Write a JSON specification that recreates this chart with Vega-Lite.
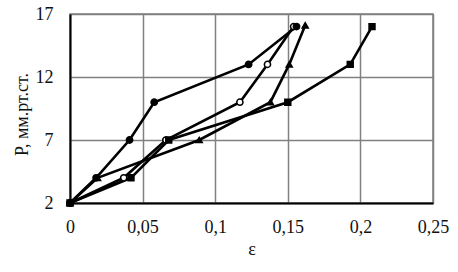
{
  "$schema": "https://vega.github.io/schema/vega-lite/v6.json",
  "width": 363,
  "height": 189,
  "autosize": "none",
  "padding": {"left": 70, "top": 14, "right": 25, "bottom": 69},
  "background": "white",
  "config": {
    "font": "Times New Roman, Liberation Serif, serif",
    "view": {"stroke": "#808080", "strokeWidth": 1.5},
    "axis": {
      "labelFont": "Times New Roman, Liberation Serif, serif",
      "titleFont": "Times New Roman, Liberation Serif, serif",
      "labelFontSize": 18,
      "titleFontSize": 18,
      "labelColor": "#111",
      "titleColor": "#111",
      "titleFontWeight": "normal",
      "gridColor": "#808080",
      "gridWidth": 1.5,
      "gridOpacity": 1,
      "domainColor": "#000",
      "domainWidth": 2,
      "ticks": false
    }
  },
  "data": {
    "values": [
      {"s": "B", "o": 0, "eps": 0, "P": 2},
      {"s": "B", "o": 1, "eps": 0.037, "P": 4},
      {"s": "B", "o": 2, "eps": 0.066, "P": 7},
      {"s": "B", "o": 3, "eps": 0.117, "P": 10},
      {"s": "B", "o": 4, "eps": 0.136, "P": 13},
      {"s": "B", "o": 5, "eps": 0.154, "P": 16},
      {"s": "C", "o": 0, "eps": 0, "P": 2},
      {"s": "C", "o": 1, "eps": 0.019, "P": 4},
      {"s": "C", "o": 2, "eps": 0.089, "P": 7},
      {"s": "C", "o": 3, "eps": 0.138, "P": 10},
      {"s": "C", "o": 4, "eps": 0.151, "P": 13},
      {"s": "C", "o": 5, "eps": 0.162, "P": 16.1},
      {"s": "D", "o": 0, "eps": 0, "P": 2},
      {"s": "D", "o": 1, "eps": 0.042, "P": 4},
      {"s": "D", "o": 2, "eps": 0.068, "P": 7},
      {"s": "D", "o": 3, "eps": 0.15, "P": 10},
      {"s": "D", "o": 4, "eps": 0.193, "P": 13},
      {"s": "D", "o": 5, "eps": 0.208, "P": 16},
      {"s": "A", "o": 0, "eps": 0, "P": 2},
      {"s": "A", "o": 1, "eps": 0.018, "P": 4},
      {"s": "A", "o": 2, "eps": 0.041, "P": 7},
      {"s": "A", "o": 3, "eps": 0.058, "P": 10},
      {"s": "A", "o": 4, "eps": 0.123, "P": 13},
      {"s": "A", "o": 5, "eps": 0.156, "P": 16}
    ]
  },
  "encoding": {
    "x": {
      "field": "eps",
      "type": "quantitative",
      "scale": {"domain": [0, 0.25], "nice": false, "zero": false},
      "axis": {
        "values": [0, 0.05, 0.1, 0.15, 0.2, 0.25],
        "labelExpr": "replace(format(datum.value, '~g'), '.', ',')",
        "labelPadding": 15,
        "title": "ε",
        "titlePadding": 4,
        "labelFlush": false
      }
    },
    "y": {
      "field": "P",
      "type": "quantitative",
      "scale": {"domain": [2, 17], "nice": false, "zero": false},
      "axis": {
        "values": [2, 7, 12, 17],
        "labelPadding": 17,
        "title": "P, мм.рт.ст.",
        "titlePadding": 4,
        "titleY": 100,
        "labelFlush": false
      }
    }
  },
  "layer": [
    {
      "mark": {"type": "line", "color": "#000", "strokeWidth": 2.6},
      "encoding": {
        "detail": {"field": "s"},
        "order": {"field": "o", "type": "quantitative"}
      }
    },
    {
      "mark": {"type": "point", "filled": false, "stroke": "#000", "strokeWidth": 1.5, "opacity": 1},
      "encoding": {
        "shape": {
          "field": "s",
          "type": "nominal",
          "scale": {"domain": ["A", "B", "C", "D"], "range": ["circle", "circle", "triangle-up", "square"]},
          "legend": null
        },
        "fill": {
          "field": "s",
          "type": "nominal",
          "scale": {"domain": ["A", "B", "C", "D"], "range": ["#000", "#fff", "#000", "#000"]},
          "legend": null
        },
        "size": {
          "field": "s",
          "type": "nominal",
          "scale": {"domain": ["A", "B", "C", "D"], "range": [40, 35, 55, 50]},
          "legend": null
        }
      }
    }
  ]
}
